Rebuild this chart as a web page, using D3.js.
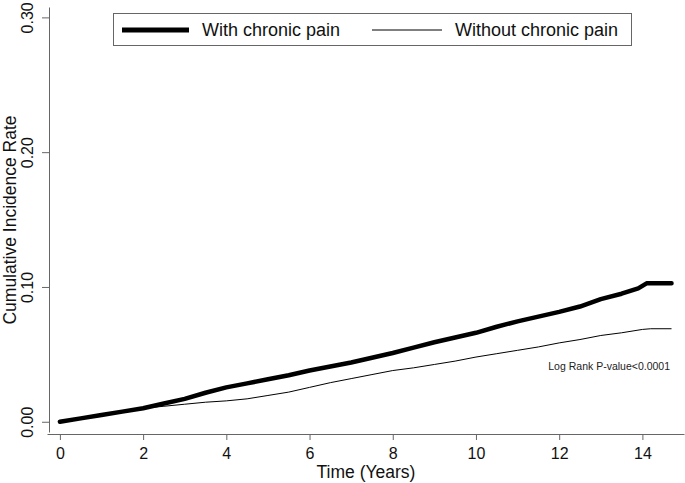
<!DOCTYPE html>
<html>
<head>
<meta charset="utf-8">
<script src="https://cdn.jsdelivr.net/npm/d3@7"></script>
<style>
  body { margin: 0; background: #fff; }
  svg { display: block; font-family: "Liberation Sans", Arial, sans-serif; }
</style>
</head>
<body>
<svg width="685" height="483"></svg>
<script>
// data
const withTime = [0, 0.5, 1, 1.5, 2, 2.5, 3, 3.5, 4, 4.5, 5, 5.5, 6, 6.5, 7, 7.5, 8, 8.5, 9, 9.5, 10, 10.5, 11, 11.5, 12, 12.5, 13, 13.5, 13.9, 14.1, 14.7]
const withRate = [0, 0.0025, 0.005, 0.0075, 0.010, 0.0135, 0.017, 0.0215, 0.0255, 0.0285, 0.0315, 0.0345, 0.038, 0.041, 0.044, 0.0475, 0.051, 0.055, 0.059, 0.0625, 0.066, 0.0705, 0.0745, 0.078, 0.0815, 0.0855, 0.091, 0.095, 0.099, 0.1027, 0.1027]
const withoutTime = [0, 0.5, 1, 1.5, 2, 2.5, 3, 3.5, 4, 4.5, 5, 5.5, 6, 6.5, 7, 7.5, 8, 8.5, 9, 9.5, 10, 10.5, 11, 11.5, 12, 12.5, 13, 13.5, 14, 14.2, 14.7]
const withoutRate = [0, 0.0025, 0.005, 0.0075, 0.010, 0.0115, 0.013, 0.0145, 0.0155, 0.017, 0.0195, 0.022, 0.0255, 0.029, 0.032, 0.035, 0.038, 0.040, 0.0425, 0.045, 0.048, 0.0505, 0.053, 0.0555, 0.0585, 0.061, 0.064, 0.066, 0.0685, 0.069, 0.069]
const xTicks = [0, 2, 4, 6, 8, 10, 12, 14]
const yTicks = [0, 0.1, 0.2, 0.3]
const seriesNames = ['With chronic pain', 'Without chronic pain']
const note = 'Log Rank P-value<0.0001'

const svg = d3.select('svg')
const axisColor = '#666'

//scales
const x = d3.scaleLinear().domain([-0.31, 15.0]).range([47, 684])
const y = d3.scaleLinear().domain([-0.0076, 0.3077]).range([432, 7])

//axes
const xAxis = svg.append('g')
    .attr('transform', 'translate(0,434)')
    .call(d3.axisBottom(x).tickValues(xTicks).tickSize(6).tickSizeOuter(0).tickFormat(d3.format('d')))
xAxis.selectAll('path, line').attr('stroke', axisColor)
xAxis.selectAll('text')
    .attr('y', 25)
    .attr('dy', 0)
    .style('font-size', '16px')
    .attr('fill', '#111')

const yAxis = svg.append('g')
    .attr('transform', 'translate(49,0)')
    .call(d3.axisLeft(y).tickValues(yTicks).tickSize(7).tickSizeOuter(0).tickFormat(d3.format('.2f')))
yAxis.selectAll('path, line').attr('stroke', axisColor)
yAxis.selectAll('text')
    .attr('x', 0)
    .attr('dy', 0)
    .attr('text-anchor', 'middle')
    .attr('transform', 'translate(-16,0) rotate(-90)')
    .style('font-size', '16px')
    .attr('fill', '#111')

//axis titles
svg.append('text')
    .attr('x', 366)
    .attr('y', 478)
    .attr('text-anchor', 'middle')
    .style('font-size', '17.5px')
    .attr('fill', '#111')
    .text('Time (Years)')

svg.append('text')
    .attr('transform', 'translate(15.5,220) rotate(-90)')
    .attr('text-anchor', 'middle')
    .style('font-size', '17.5px')
    .attr('fill', '#111')
    .text('Cumulative Incidence Rate')

//curves
const line = d3.line().x(d => x(d[0])).y(d => y(d[1]))
const withPts = withTime.map((t, i) => [t, withRate[i]])
const withoutPts = withoutTime.map((t, i) => [t, withoutRate[i]])

svg.append('path')
    .datum(withoutPts)
    .attr('d', line)
    .attr('fill', 'none')
    .attr('stroke', '#000')
    .attr('stroke-width', 1)

svg.append('path')
    .datum(withPts)
    .attr('d', line)
    .attr('fill', 'none')
    .attr('stroke', '#000')
    .attr('stroke-width', 4.5)
    .attr('stroke-linejoin', 'round')
    .attr('stroke-linecap', 'round')

//legend
const legend = svg.append('g')
legend.append('rect')
    .attr('x', 113.5).attr('y', 13.5)
    .attr('width', 518).attr('height', 32)
    .attr('fill', '#fff')
    .attr('stroke', axisColor)
legend.append('line')
    .attr('x1', 122).attr('x2', 189).attr('y1', 30).attr('y2', 30)
    .attr('stroke', '#000').attr('stroke-width', 5)
legend.append('text')
    .attr('x', 202).attr('y', 36)
    .style('font-size', '18px')
    .attr('fill', '#111')
    .text(seriesNames[0])
legend.append('line')
    .attr('x1', 372).attr('x2', 442).attr('y1', 30).attr('y2', 30)
    .attr('stroke', '#000').attr('stroke-width', 1)
legend.append('text')
    .attr('x', 455).attr('y', 36)
    .style('font-size', '18px')
    .attr('fill', '#111')
    .text(seriesNames[1])

//note
svg.append('text')
    .attr('x', 670)
    .attr('y', 370)
    .attr('text-anchor', 'end')
    .style('font-size', '10.5px')
    .attr('fill', '#222')
    .text(note)
</script>
</body>
</html>
